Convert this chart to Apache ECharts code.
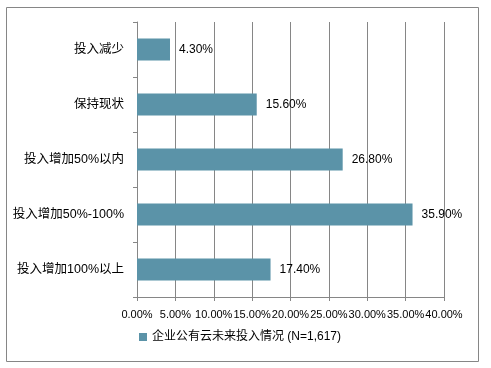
<!DOCTYPE html>
<html><head><meta charset="utf-8">
<script src="https://cdn.jsdelivr.net/npm/echarts@6/dist/echarts.min.js"></script>
<style>html,body{margin:0;padding:0;background:#fff}#c{width:491px;height:368px}</style>
</head><body><div id="c"></div>
<script>
var categories = ["投入增加100%以上", "投入增加50%-100%", "投入增加50%以内", "保持现状", "投入减少"];
var values = [17.4, 35.9, 26.8, 15.6, 4.3];
var seriesName = "企业公有云未来投入情况 (N=1,617)";
var FONT = "'Liberation Sans','Noto Sans CJK SC',sans-serif";
var chart = echarts.init(document.getElementById('c'));
chart.setOption({
  animation: false,
  backgroundColor: '#fff',
  graphic: [{type:'rect', shape:{x:6.5,y:7.5,width:472,height:354}, style:{fill:'none', stroke:'#868686', lineWidth:1}, silent:true}],
  grid: {left:137, right:47, top:22, bottom:71},
  legend: {
    data:[seriesName], bottom: 20, left: 134, itemWidth: 8, itemHeight: 8, icon:'rect', itemGap: 4,
    textStyle:{fontFamily:FONT, fontSize:12, color:'#000'}
  },
  xAxis: {
    type:'value', min:0, max:40, interval:5,
    axisLabel:{formatter:function(v){return v.toFixed(2)+'%';}, fontFamily:FONT, fontSize:11, color:'#000', margin:12, hideOverlap:false, showMinLabel:true, showMaxLabel:true},
    axisLine:{show:true, lineStyle:{color:'#868686'}},
    axisTick:{show:true, length:4, lineStyle:{color:'#868686'}},
    splitLine:{show:true, lineStyle:{color:'#868686'}}
  },
  yAxis: {
    type:'category', data:categories,
    axisLabel:{fontFamily:FONT, fontSize:12.5, color:'#000', margin:13},
    axisLine:{show:true, lineStyle:{color:'#868686'}},
    axisTick:{show:true, length:4, lineStyle:{color:'#868686'}}
  },
  series: [{
    name: seriesName, type:'bar', data: values, barWidth: 22,
    itemStyle:{color:'#5B93A8'},
    label:{show:true, position:'right', distance:9, fontFamily:FONT, fontSize:12, color:'#000',
      formatter:function(p){return p.value.toFixed(2)+'%';}}
  }]
});
</script></body></html>
